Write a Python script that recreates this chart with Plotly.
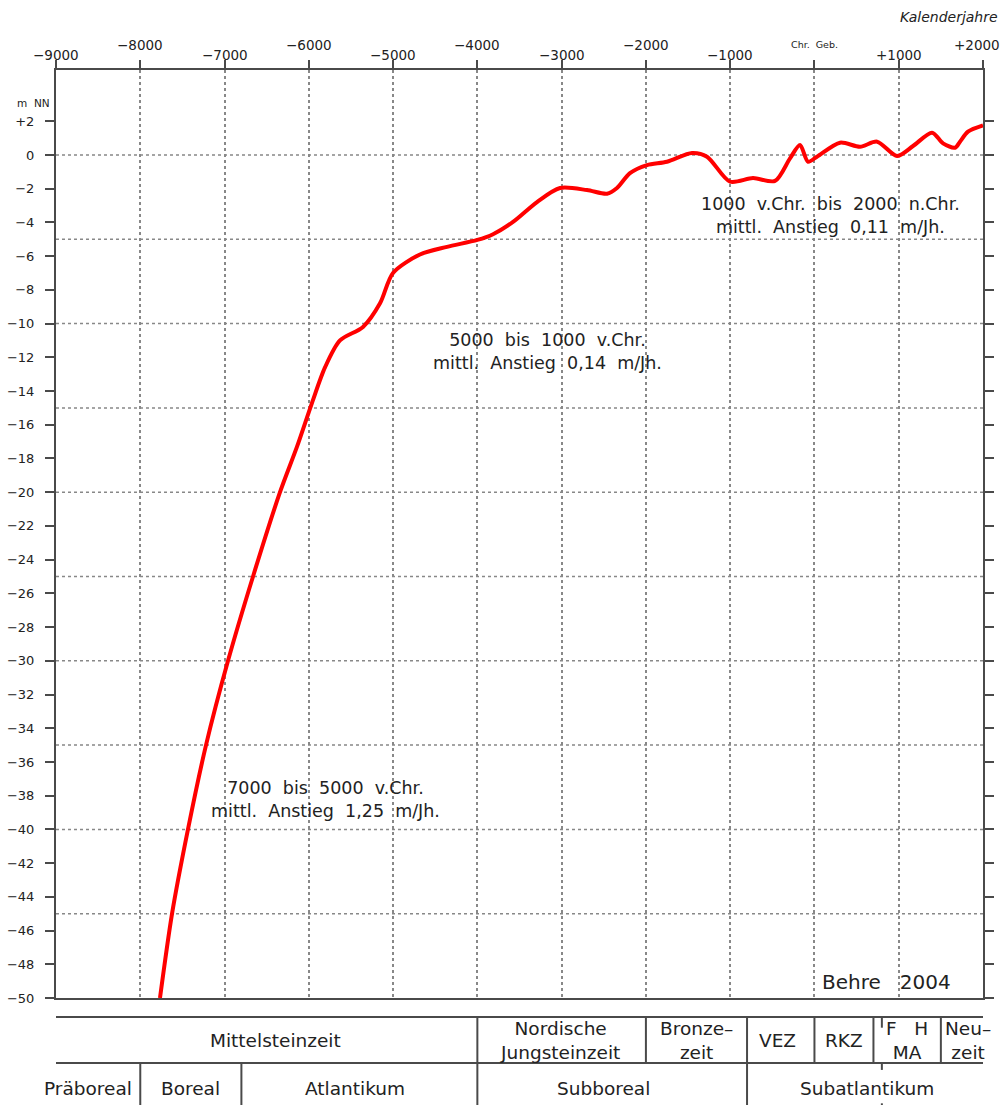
import plotly.graph_objects as go

# Meeresspiegelkurve (Behre 2004): Kalenderjahre vs. m NN
years = [-7766, -7623, -7434, -7220, -6959, -6662, -6342, -6140, -5962, -5808,
         -5630, -5357, -5155, -5001, -4681, -4360, -4000, -3814, -3577, -3292,
         -3019, -2699, -2461, -2343, -2189, -1987, -1750, -1453, -1275, -1002,
         -729, -468, -290, -171, -76, 30, 304, 541, 743, 980,
         1170, 1395, 1526, 1668, 1727, 1822, 2000]
levels = [-50, -45, -40, -35, -30, -25, -20, -17.3, -14.7, -12.6,
          -11.0, -10.2, -8.8, -7.0, -5.9, -5.45, -5.04, -4.7, -3.97, -2.79,
          -1.96, -2.08, -2.3, -1.96, -1.08, -0.6, -0.4, 0.12, -0.1, -1.58,
          -1.37, -1.54, -0.2, 0.59, -0.4, -0.1, 0.73, 0.49, 0.79, -0.06,
          0.53, 1.32, 0.69, 0.43, 0.79, 1.38, 1.75]

x_ticks = list(range(-9000, 2001, 1000))
x_tick_labels = ["\u22129000", "\u22128000", "\u22127000", "\u22126000", "\u22125000",
                 "\u22124000", "\u22123000", "\u22122000", "\u22121000",
                 "Chr.\u00a0\u00a0Geb.", "+1000", "+2000"]
y_ticks = list(range(-50, 3, 2))
y_tick_labels = [("+%d" % v if v > 0 else ("0" if v == 0 else "\u2212%d" % -v)) for v in y_ticks]
y_grid = [0, -5, -10, -15, -20, -25, -30, -35, -40, -45]

# Zeittafel unter dem Diagramm
epochs = ["Mittelsteinzeit", "Nordische<br>Jungsteinzeit", "Bronze\u2013<br>zeit",
          "VEZ", "RKZ", "F\u00a0\u00a0\u00a0H<br>MA", "Neu\u2013<br>zeit"]
epoch_centers = [-6400, -3020, -1400, -440, 350, 1100, 1820]
epoch_bounds = [-4000, -2000, -800, 0, 700, 1500]
climate = ["Präboreal", "Boreal", "Atlantikum", "Subboreal", "Subatlantikum"]
climate_centers = [-8620, -7400, -5450, -2500, 620]
climate_bounds = [-8000, -6800, -4000, -800]

notes = [
    ("1000\u00a0\u00a0v.Chr.\u00a0\u00a0bis\u00a0\u00a02000\u00a0\u00a0n.Chr.<br>"
     "mittl.\u00a0\u00a0Anstieg\u00a0\u00a00,11\u00a0\u00a0m/Jh.", 185, -3.6),
    ("5000\u00a0\u00a0bis\u00a0\u00a01000\u00a0\u00a0v.Chr.<br>"
     "mittl.\u00a0\u00a0Anstieg\u00a0\u00a00,14\u00a0\u00a0m/Jh.", -3162, -11.63),
    ("7000\u00a0\u00a0bis\u00a0\u00a05000\u00a0\u00a0v.Chr.<br>"
     "mittl.\u00a0\u00a0Anstieg\u00a0\u00a01,25\u00a0\u00a0m/Jh.", -5808, -38.2),
]

FONT = "DejaVu Sans, Verdana, sans-serif"
AX = "#4a4a4a"
TXT = "#222"

fig = go.Figure()
fig.add_trace(go.Scatter(x=years, y=levels, mode="lines",
                         line=dict(color="#ff0000", width=4, shape="spline", smoothing=0.8),
                         hoverinfo="skip", showlegend=False))

for g in y_grid:
    fig.add_hline(y=g, line=dict(color="#888888", width=1.5, dash="dot"), layer="below")

annotations = []
for i, (v, lab) in enumerate(zip(x_ticks, x_tick_labels)):
    upper = i % 2 == 1
    annotations.append(dict(x=v, y=1.027 if upper else 1.016, xref="x", yref="paper",
                            text=lab, showarrow=False, yanchor="middle",
                            xshift=-6 if i == len(x_ticks) - 1 else 0,
                            font=dict(size=9.5 if lab.startswith("Chr") else 13.5,
                                      color=TXT, family=FONT)))
annotations.append(dict(x=1.0183, y=1.057, xref="paper", yref="paper", text="<i>Kalenderjahre</i>",
                        showarrow=False, xanchor="right", yanchor="middle",
                        font=dict(size=14, color=TXT, family=FONT)))
annotations.append(dict(x=-0.0043, y=0.973, xref="paper", yref="paper", text="m\u00a0\u00a0NN",
                        showarrow=False, xanchor="right",
                        font=dict(size=10.5, color=TXT, family=FONT)))
for txt, xx, yy in notes:
    annotations.append(dict(x=xx, y=yy, xref="x", yref="y", text=txt, showarrow=False,
                            font=dict(size=17.5, color=TXT, family=FONT)))
annotations.append(dict(x=860, y=-49.05, xref="x", yref="y", text="Behre\u00a0\u00a0\u00a02004",
                        showarrow=False, font=dict(size=20, color=TXT, family=FONT)))

# Tabelle: Linien
ROW_TOP, ROW_MID, ROW_BOT = -0.0205, -0.0700, -0.125
line_style = dict(color=AX, width=2)
for yy in (ROW_TOP, ROW_MID):
    fig.add_shape(type="line", xref="x", yref="paper", x0=-9000, x1=2100, y0=yy, y1=yy,
                  line=line_style)
for b in epoch_bounds:
    fig.add_shape(type="line", xref="x", yref="paper", x0=b, x1=b, y0=ROW_TOP, y1=ROW_MID,
                  line=line_style)
for b in climate_bounds:
    fig.add_shape(type="line", xref="x", yref="paper", x0=b, x1=b, y0=ROW_MID, y1=ROW_BOT,
                  line=line_style)
for y0, y1 in ((ROW_TOP, -0.032), (ROW_MID, -0.0775), (-0.1135, ROW_BOT)):
    fig.add_shape(type="line", xref="x", yref="paper", x0=800, x1=800, y0=y0, y1=y1,
                  line=line_style)

for lab, c in zip(epochs, epoch_centers):
    annotations.append(dict(x=c, y=-0.0453, xref="x", yref="paper", text=lab,
                            showarrow=False, yanchor="middle",
                            font=dict(size=18.5, color=TXT, family=FONT)))
for lab, c in zip(climate, climate_centers):
    annotations.append(dict(x=c, y=-0.097, xref="x", yref="paper", text=lab,
                            showarrow=False, yanchor="middle",
                            font=dict(size=18.5, color=TXT, family=FONT)))

fig.update_layout(
    width=1003, height=1105,
    margin=dict(l=56, r=20, t=70, b=107),
    paper_bgcolor="white", plot_bgcolor="white",
    showlegend=False,
    annotations=annotations,
    xaxis=dict(range=[-9000, 2000], side="top", tickvals=x_ticks, showticklabels=False,
               ticks="outside", ticklen=8, tickwidth=2, tickcolor=AX,
               showline=True, linecolor=AX, linewidth=2, mirror=True,
               showgrid=True, gridcolor="#888888", gridwidth=1.5, griddash="dot",
               zeroline=False, automargin=False),
    yaxis=dict(range=[-50, 5.04], tickvals=y_ticks, ticktext=y_tick_labels,
               ticks="outside", ticklen=9, tickwidth=2, tickcolor=AX,
               showline=True, linecolor=AX, linewidth=2, mirror="ticks",
               showgrid=False, zeroline=False, ticklabelstandoff=8, automargin=False,
               tickfont=dict(size=13, color=TXT, family=FONT)),
)

# Browser-Standardrand entfernen, damit die Figur bei (0,0) beginnt
fig.write_html("out.html", config={"displayModeBar": False},
               post_script="document.body.style.margin='0';")
